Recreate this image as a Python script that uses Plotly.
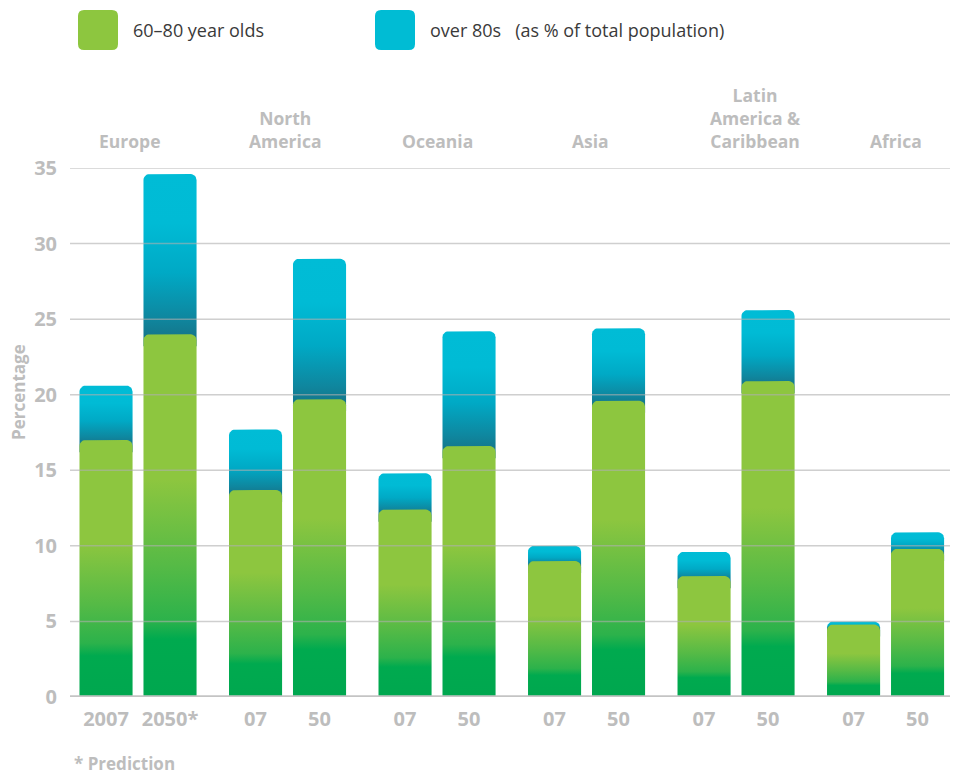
import math
import plotly.graph_objects as go

# data
regions = ["Europe", "North<br>America", "Oceania", "Asia",
           "Latin<br>America &<br>Caribbean", "Africa"]
year_labels = ["2007", "2050*", "07", "50", "07", "50", "07", "50", "07", "50", "07", "50"]
age_60_80 = [17.0, 24.0, 13.7, 19.7, 12.4, 16.6, 9.0, 19.6, 8.0, 20.9, 4.8, 9.8]
over_80 = [3.6, 10.6, 4.0, 9.3, 2.4, 7.6, 1.0, 4.8, 1.6, 4.7, 0.2, 1.1]
y_ticks = [0, 5, 10, 15, 20, 25, 30, 35]

GRAY = "#bdbdbd"
FONT = "Open Sans"

# layout geometry (pixels)
L, R, T, B = 70, 11, 168, 79
W, H = 961, 776
X_RANGE = [-0.455, 5.431]
Y_RANGE = [0, 35]
px_x = (W - L - R) / (X_RANGE[1] - X_RANGE[0])
px_y = (H - T - B) / (Y_RANGE[1] - Y_RANGE[0])
HALF_GAP = 0.214     # bar centre offset from group centre
BAR_W = 0.355
RAD = 6              # corner radius, px

green_scale = [[0, "#00a74f"], [0.16, "#00aa4f"], [0.21, "#2cb24b"],
               [0.36, "#55ba46"], [0.6, "#8dc63f"], [1, "#8dc63f"]]
blue_scale = [[0, "#157589"], [0.12, "#0f869e"], [0.4, "#00a9c5"],
              [0.7, "#00bbd5"], [1, "#00bcd6"]]


def rounded_bar(xc, y0, y1):
    rx, ry = RAD / px_x, min(RAD / px_y, (y1 - y0) * 0.9)
    x0, x1 = xc - BAR_W / 2, xc + BAR_W / 2
    xs, ys = [x0, x1], [y0, y0]
    for k in range(7):
        a = math.pi / 2 * k / 6
        xs.append(x1 - rx + rx * math.cos(a))
        ys.append(y1 - ry + ry * math.sin(a))
    for k in range(7):
        a = math.pi / 2 + math.pi / 2 * k / 6
        xs.append(x0 + rx + rx * math.cos(a))
        ys.append(y1 - ry + ry * math.sin(a))
    xs.append(x0)
    ys.append(y0)
    return xs, ys


bar_x = []
for g in range(len(regions)):
    bar_x += [g - HALF_GAP, g + HALF_GAP]

fig = go.Figure()
for i, xc in enumerate(bar_x):
    g_top = age_60_80[i]
    total = g_top + over_80[i]
    xs, ys = rounded_bar(xc, g_top - 0.8, total)
    fig.add_trace(go.Scatter(
        x=xs, y=ys, mode="lines", fill="toself", line=dict(width=0),
        fillgradient=dict(type="vertical", colorscale=blue_scale, start=g_top - 0.3, stop=total),
        hoveron="fills", text=f"over 80s: {over_80[i]}%", hoverinfo="text", showlegend=False))
    xs, ys = rounded_bar(xc, 0, g_top)
    fig.add_trace(go.Scatter(
        x=xs, y=ys, mode="lines", fill="toself", line=dict(width=0),
        fillgradient=dict(type="vertical", colorscale=green_scale, start=0, stop=g_top),
        hoveron="fills", text=f"60-80 year olds: {g_top}%", hoverinfo="text", showlegend=False))

shapes = []
for v in y_ticks[1:]:
    shapes.append(dict(type="line", xref="paper", yref="y", x0=0, x1=1, y0=v, y1=v,
                       line=dict(color="rgba(175,175,175,0.6)", width=1.5), layer="above"))
shapes.append(dict(type="line", xref="paper", yref="y", x0=0, x1=1, y0=0, y1=0,
                   line=dict(color="#c4c4c4", width=3.5), layer="above"))

# legend squares
sq = (f"M -20 {-20 + RAD} Q -20 -20 {-20 + RAD} -20 L {20 - RAD} -20 Q 20 -20 20 {-20 + RAD} "
      f"L 20 {20 - RAD} Q 20 20 {20 - RAD} 20 L {-20 + RAD} 20 Q -20 20 -20 {20 - RAD} Z")
leg_y = (H - B - 30) / (H - T - B)
for cx, col in [(98, "#8dc63f"), (395, "#00bcd4")]:
    shapes.append(dict(type="path", xref="paper", yref="paper", xsizemode="pixel", ysizemode="pixel",
                       xanchor=(cx - L) / (W - L - R), yanchor=leg_y,
                       path=sq, fillcolor=col, line=dict(width=0)))

annotations = []
label_shift = [-8, -3, 0, 4, 19, 10]
for g, name in enumerate(regions):
    annotations.append(dict(x=g, xref="x", y=1, yref="paper", yanchor="bottom", yshift=13,
                            xshift=label_shift[g], text=name, showarrow=False, align="center",
                            font=dict(family=FONT, size=17.5, color=GRAY, weight="bold")))
annotations.append(dict(x=(131 - L) / (W - L - R), y=leg_y, xref="paper", yref="paper",
                        xanchor="left", yanchor="middle", showarrow=False, text="60–80 year olds",
                        font=dict(family=FONT, size=18, color="#3a3a3a")))
annotations.append(dict(x=(428 - L) / (W - L - R), y=leg_y, xref="paper", yref="paper",
                        xanchor="left", yanchor="middle", showarrow=False,
                        text="over 80s\u00a0\u00a0\u00a0(as % of total population)",
                        font=dict(family=FONT, size=18, color="#3a3a3a")))
annotations.append(dict(x=(18 - L) / (W - L - R), y=(H - B - 392) / (H - T - B), xref="paper",
                        yref="paper", xanchor="center", yanchor="middle", textangle=-90,
                        showarrow=False, text="Percentage",
                        font=dict(family=FONT, size=17, color=GRAY, weight="bold")))
annotations.append(dict(x=(72 - L) / (W - L - R), y=(H - B - 763) / (H - T - B), xref="paper",
                        yref="paper", xanchor="left", yanchor="middle", showarrow=False,
                        text="* Prediction", font=dict(family=FONT, size=17, color=GRAY, weight="bold")))

fig.update_layout(
    width=W, height=H,
    margin=dict(l=L, r=R, t=T, b=B, pad=0),
    paper_bgcolor="white", plot_bgcolor="white",
    showlegend=False,
    shapes=shapes, annotations=annotations,
    xaxis=dict(range=X_RANGE, tickvals=bar_x, ticktext=year_labels, showgrid=False,
               zeroline=False, showline=False, ticks="", ticklabelstandoff=8,
               tickfont=dict(family=FONT, size=20, color=GRAY, weight="bold"), fixedrange=True),
    yaxis=dict(range=Y_RANGE, tickvals=y_ticks, showgrid=False, zeroline=False, showline=False,
               ticks="", ticklabelstandoff=12,
               tickfont=dict(family=FONT, size=20, color=GRAY, weight="bold"), fixedrange=True),
)

fig.write_html("out.html", config={"displayModeBar": False},
               post_script="document.body.style.margin = '0';")
